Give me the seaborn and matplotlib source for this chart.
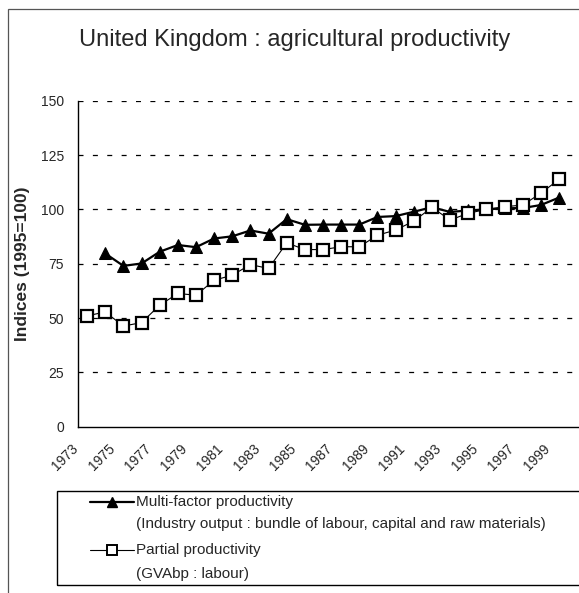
import numpy as np
import pandas as pd
import matplotlib
matplotlib.use("Agg")
import matplotlib.pyplot as plt
import seaborn as sns
from matplotlib.patches import Rectangle
from matplotlib.lines import Line2D
import matplotlib.transforms as mtransforms

# ---- data ----
years = list(range(1973, 2000))
multi_factor = [np.nan, 79.7, 74.0, 75.1, 80.5, 83.6, 82.6, 86.6, 87.6, 90.3, 88.8,
                95.5, 92.9, 93.0, 93.0, 93.0, 96.5, 96.9, 98.9, 101.0, 98.8,
                99.5, 100.0, 100.5, 100.6, 102.0, 105.4]
partial = [51.0, 52.8, 46.3, 47.9, 55.9, 61.3, 60.5, 67.4, 69.7, 74.6, 72.8,
           84.6, 81.5, 81.5, 82.8, 82.8, 88.1, 90.5, 94.6, 100.9, 95.1,
           98.2, 100.0, 101.2, 102.0, 107.4, 113.8]
tick_years = list(range(1973, 2000, 2))
y_ticks = [0, 25, 50, 75, 100, 125, 150]
title = "United Kingdom : agricultural productivity"
ylabel = "Indices (1995=100)"
legend_lines = [
    ["Multi-factor productivity",
     "(Industry output : bundle of labour, capital and raw materials)"],
    ["Partial productivity", "(GVAbp : labour)"],
]

df = pd.DataFrame({"year": years, "multi": multi_factor, "partial": partial})

sns.set_theme(style="white")
plt.rcParams["font.family"] = ["Liberation Sans", "DejaVu Sans"]

W, H = 579, 593
fig = plt.figure(figsize=(W / 100, H / 100), dpi=100)
fig.patch.set_facecolor("white")

def fx(px):
    return px / W

def fy(py):
    return 1 - py / H

# outer chart border
fig.patches.append(Rectangle((fx(8), -0.1), 1.2, fy(9) + 0.1, transform=fig.transFigure,
                             fill=False, edgecolor="#555555", linewidth=0.9))

left, right, top, bottom = 78, 579, 100.7, 426.7
ax = fig.add_axes([fx(left), fy(bottom), (right - left) / W, (bottom - top) / H])
ax.set_facecolor("white")

multi_style = dict(color="black", linewidth=1.6, marker="^", markersize=8,
                   markerfacecolor="black", markeredgecolor="black")
partial_style = dict(color="black", linewidth=0.8, marker="s", markersize=8.5,
                     markerfacecolor="white", markeredgecolor="black", markeredgewidth=1.6)

sns.lineplot(data=df, x="year", y="multi", ax=ax, **multi_style)
sns.lineplot(data=df, x="year", y="partial", ax=ax, **partial_style)

ax.set_xlim(1972.5, 1972.5 + (right - left) / 18.15)
ax.set_ylim(0, 150)
ax.set_yticks(y_ticks)
ax.set_yticklabels([str(v) for v in y_ticks], fontsize=10)
ax.set_xticks(tick_years)
ax.set_xticklabels([str(y) for y in tick_years], fontsize=10, rotation=45,
                   ha="right", va="top")
ax.set_xticks(np.arange(1972.5, 2000, 1.0), minor=True)
ax.tick_params(axis="x", which="major", length=0, pad=11)
ax.tick_params(axis="x", which="minor", length=4, width=0.9, direction="out", color="black")
ax.tick_params(axis="y", length=8, width=0.9, direction="inout", color="black", pad=6)
offset = mtransforms.ScaledTranslation(-6 / 100, 0, fig.dpi_scale_trans)
for lab in ax.get_xticklabels():
    lab.set_transform(lab.get_transform() + offset)

for v in y_ticks[1:]:
    ax.axhline(v, color="black", linewidth=0.9, linestyle=(0, (4, 7.5)), zorder=0)

for s in ["top", "right"]:
    ax.spines[s].set_visible(False)
for s in ["left", "bottom"]:
    ax.spines[s].set_color("black")
    ax.spines[s].set_linewidth(1.0)
ax.set_xlabel("")
ax.set_ylabel("")

fig.text(fx(295), fy(40), title, ha="center", va="center", fontsize=17)
fig.text(fx(23), fy(264), ylabel, rotation=90, ha="center", va="center",
         fontsize=12.5, fontweight="bold")

# legend box with entries
box_top, box_bottom, box_left = 491, 585, 57
fig.patches.append(Rectangle((fx(box_left), fy(box_bottom)), 1.2, (box_bottom - box_top) / H,
                             transform=fig.transFigure, fill=False, edgecolor="black",
                             linewidth=1.0))
entry_rows = [(502, 524), (550, 574)]
styles = [dict(multi_style, markersize=7), dict(partial_style, markersize=7, markeredgewidth=1.4)]
for (r1, r2), lines, st in zip(entry_rows, legend_lines, styles):
    fig.add_artist(Line2D([fx(90), fx(134)], [fy(r1), fy(r1)], transform=fig.transFigure,
                          color="black", linewidth=st["linewidth"]))
    fig.add_artist(Line2D([fx(112)], [fy(r1)], transform=fig.transFigure, linestyle="none",
                          marker=st["marker"], markersize=st["markersize"],
                          markerfacecolor=st["markerfacecolor"], markeredgecolor="black",
                          markeredgewidth=st.get("markeredgewidth", 1.0)))
    fig.text(fx(136), fy(r1), lines[0], ha="left", va="center", fontsize=11)
    fig.text(fx(136), fy(r2), lines[1], ha="left", va="center", fontsize=11)

fig.savefig("out.png", dpi=100, facecolor="white")
